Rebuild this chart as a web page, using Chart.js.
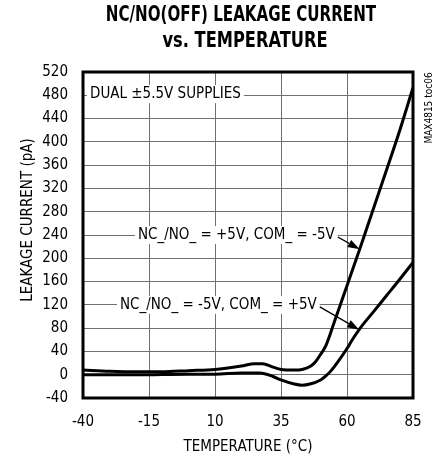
<!DOCTYPE html>
<html>
<head>
<meta charset="utf-8">
<script src="https://cdn.jsdelivr.net/npm/chart.js@4.4.0/dist/chart.umd.min.js"></script>
<style>
  html, body { margin: 0; padding: 0; background: #ffffff; }
  canvas { display: block; }
</style>
</head>
<body>
<canvas id="leakChart" width="438" height="457"></canvas>
<script>
(function () {

    // values
    const TEMP_A = [-40, -30, -20, -10, 0, 10, 20, 25, 28, 32, 35, 40, 43, 46, 48, 50, 52, 55, 60, 65, 70, 75, 80, 85];
    const LEAK_A = [8, 6, 5, 5, 7, 9, 15, 19, 19, 13, 9, 8, 9, 14, 22, 35, 50, 88, 153, 218, 285, 352, 420, 493];
    const TEMP_B = [-40, -20, 0, 10, 20, 27, 32, 35, 40, 43, 46, 50, 52, 54, 57, 60, 62, 65, 70, 75, 80, 85];
    const LEAK_B = [0, 0, 1, 1, 3, 3, -3, -9, -16, -18, -16, -9, -2, 7, 25, 45, 60, 80, 108, 136, 164, 193];

    const X_TICKS = [-40, -15, 10, 35, 60, 85];
    const Y_MIN = -40, Y_MAX = 520, Y_STEP = 40;

    const TITLE_LINES = ['NC/NO(OFF) LEAKAGE CURRENT', 'vs. TEMPERATURE'];
    const X_TITLE = 'TEMPERATURE (°C)';
    const Y_TITLE = 'LEAKAGE CURRENT (pA)';
    const SUPPLY_NOTE = 'DUAL ±5.5V SUPPLIES';
    const LABEL_A = 'NC_/NO_ = +5V, COM_ = -5V';
    const LABEL_B = 'NC_/NO_ = -5V, COM_ = +5V';
    const TOC_TAG = 'MAX4815 toc06';

    const FONT = "'Liberation Sans Narrow', 'DejaVu Sans Condensed', sans-serif";
    const GRID_COLOR = '#707070';

    Chart.defaults.font.family = FONT;
    Chart.defaults.color = '#000000';

    function toPoints(xs, ys) {
        return xs.map((x, i) => ({x: x, y: ys[i]}));
    }

    function interpolate(xs, ys, x) { // read a value on a series for placing arrow tips
        for (let i = 1; i < xs.length; i++) {
            if (x <= xs[i]) {
                let t = (x - xs[i - 1]) / (xs[i] - xs[i - 1]);
                return ys[i - 1] + t * (ys[i] - ys[i - 1]);
            }
        }
        return ys[ys.length - 1];
    }

    function drawArrow(ctx, x1, y1, x2, y2) {
        let ang = Math.atan2(y2 - y1, x2 - x1);
        let len = 12, half = 4;
        ctx.beginPath();
        ctx.moveTo(x1, y1);
        ctx.lineTo(x2 - Math.cos(ang) * len, y2 - Math.sin(ang) * len);
        ctx.lineWidth = 1.3;
        ctx.stroke();
        ctx.beginPath();
        ctx.moveTo(x2, y2);
        ctx.lineTo(x2 - Math.cos(ang) * len - Math.sin(ang) * half, y2 - Math.sin(ang) * len + Math.cos(ang) * half);
        ctx.lineTo(x2 - Math.cos(ang) * len + Math.sin(ang) * half, y2 - Math.sin(ang) * len - Math.cos(ang) * half);
        ctx.closePath();
        ctx.fill();
    }

    function boxedText(ctx, text, left, cy) {
        let w = ctx.measureText(text).width;
        ctx.fillStyle = '#ffffff';
        ctx.fillRect(left - 3, cy - 9, w + 6, 18);
        ctx.fillStyle = '#000000';
        ctx.fillText(text, left, cy);
        return left + w;
    }

    function condensedText(ctx, text, cx, cy, squeeze) {
        ctx.save();
        ctx.translate(cx, cy);
        ctx.scale(squeeze, 1);
        ctx.fillText(text, 0, 0);
        ctx.restore();
    }

    const notesPlugin = {
        id: 'notes',
        beforeDatasetsDraw(chart) {
            const ctx = chart.ctx;
            const ys = chart.scales.y;
            const area = chart.chartArea;
            ctx.save();
            ctx.font = '15px ' + FONT;
            ctx.textAlign = 'left';
            ctx.textBaseline = 'middle';
            boxedText(ctx, SUPPLY_NOTE, area.left + 7, ys.getPixelForValue(482));
            ctx.restore();
        },
        afterDatasetsDraw(chart) {
            const ctx = chart.ctx;
            const xs = chart.scales.x, ys = chart.scales.y;
            const area = chart.chartArea;
            ctx.save();
            ctx.font = '15px ' + FONT;
            ctx.textAlign = 'left';
            ctx.textBaseline = 'middle';
            ctx.strokeStyle = '#000000';

            let yA = ys.getPixelForValue(240);
            let endA = boxedText(ctx, LABEL_A, xs.getPixelForValue(-19.2), yA);
            ctx.fillStyle = '#000000';
            drawArrow(ctx, endA + 3, yA + 2, xs.getPixelForValue(64.8), ys.getPixelForValue(interpolate(TEMP_A, LEAK_A, 64.8)));

            let yB = ys.getPixelForValue(120);
            let endB = boxedText(ctx, LABEL_B, xs.getPixelForValue(-26), yB);
            ctx.fillStyle = '#000000';
            drawArrow(ctx, endB + 3, yB + 2, xs.getPixelForValue(64.6), ys.getPixelForValue(interpolate(TEMP_B, LEAK_B, 64.6)));

            // frame
            ctx.lineWidth = 3;
            ctx.strokeRect(area.left, area.top, area.right - area.left, area.bottom - area.top);

            // title, heavy and condensed like the datasheet
            ctx.textAlign = 'center';
            ctx.font = 'bold 21px ' + FONT;
            condensedText(ctx, TITLE_LINES[0], 241, 16, 0.8);
            condensedText(ctx, TITLE_LINES[1], 245, 42, 0.86);

            // y axis title
            ctx.save();
            ctx.translate(28, 220);
            ctx.rotate(-Math.PI / 2);
            ctx.font = '15px ' + FONT;
            ctx.fillText(Y_TITLE, 0, 0);
            ctx.restore();

            // figure tag on the right
            ctx.save();
            ctx.translate(429, 108);
            ctx.rotate(-Math.PI / 2);
            ctx.font = '10px ' + FONT;
            ctx.fillText(TOC_TAG, 0, 0);
            ctx.restore();
            ctx.restore();
        }
    };

    const ctx = document.getElementById('leakChart').getContext('2d');
    new Chart(ctx, {
        type: 'line',
        data: {
            datasets: [
                {label: LABEL_A, data: toPoints(TEMP_A, LEAK_A), borderColor: '#000000', borderWidth: 3, pointRadius: 0, fill: false, cubicInterpolationMode: 'monotone'},
                {label: LABEL_B, data: toPoints(TEMP_B, LEAK_B), borderColor: '#000000', borderWidth: 3, pointRadius: 0, fill: false, cubicInterpolationMode: 'monotone'}
            ]
        },
        options: {
            responsive: false,
            animation: false,
            events: [],
            layout: {padding: {left: 0, right: 25, top: 72, bottom: 0}},
            plugins: {
                legend: {display: false},
                tooltip: {enabled: false},
                title: {display: false}
            },
            scales: {
                x: {
                    type: 'linear',
                    min: X_TICKS[0],
                    max: X_TICKS[X_TICKS.length - 1],
                    afterBuildTicks: scale => { scale.ticks = X_TICKS.map(v => ({value: v})); },
                    afterFit: scale => { scale.height = 59; },
                    grid: {color: GRID_COLOR, lineWidth: 1, drawTicks: false},
                    border: {display: false},
                    ticks: {padding: 15, font: {size: 15}, maxRotation: 0},
                    title: {display: true, text: X_TITLE, font: {size: 15}, padding: {top: 0, bottom: 1}}
                },
                y: {
                    min: Y_MIN,
                    max: Y_MAX,
                    afterFit: scale => { scale.width = 83; },
                    grid: {color: GRID_COLOR, lineWidth: 1, drawTicks: false},
                    border: {display: false},
                    ticks: {stepSize: Y_STEP, padding: 15, font: {size: 15}}
                }
            }
        },
        plugins: [notesPlugin]
    });
})();
</script>
</body>
</html>
